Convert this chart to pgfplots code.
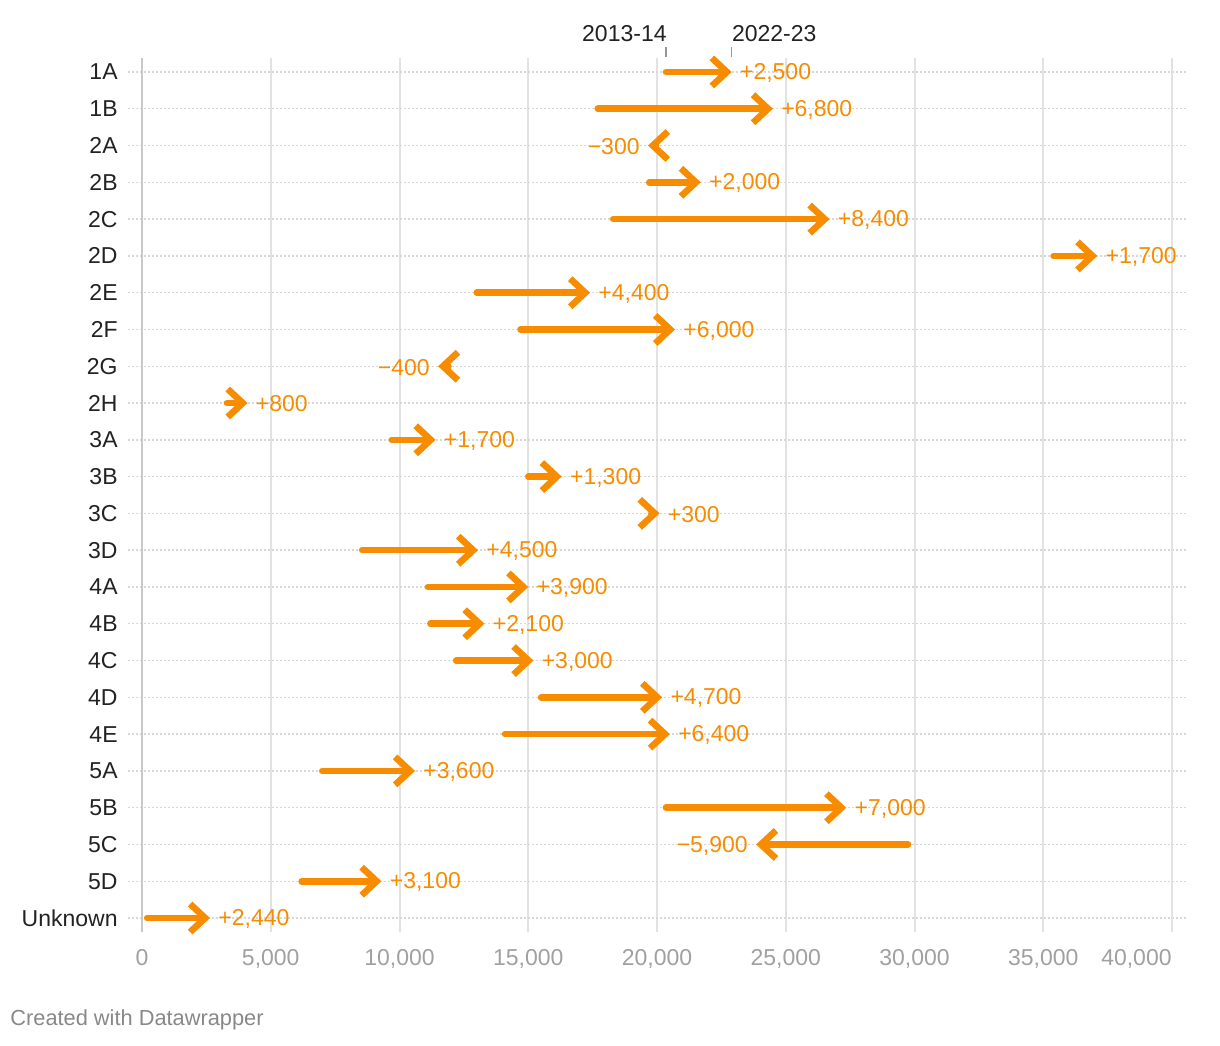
\documentclass[border=0pt]{standalone}
\usepackage{fontspec}
\setmainfont{Liberation Sans}
\usepackage{pgfplots}
\usepackage{pgfplotstable}
\pgfplotsset{compat=1.18}
\usetikzlibrary{arrows.meta}

\definecolor{dworange}{RGB}{247,140,0}
\definecolor{gridgray}{RGB}{226,226,226}
\definecolor{zerogray}{RGB}{200,200,200}
\definecolor{markgray}{RGB}{150,150,150}
\definecolor{dotgray}{RGB}{215,215,215}
\definecolor{tickgray}{RGB}{160,160,160}
\definecolor{footgray}{RGB}{136,136,136}
\definecolor{labeldark}{RGB}{34,34,34}

% rows: 0 = 1A ... 23 = Unknown ; x0 = 2013-14, x1 = 2022-23
\pgfplotstableread{
y  x0     x1     lab
0  20350  22900  +2,500
1  17700  24500  +6,800
3  19700  21700  +2,000
4  18300  26700  +8,400
5  35400  37100  +1,700
6  13000  17400  +4,400
7  14700  20700  +6,000
9  3300   4100   +800
10 9700   11400  +1,700
11 15000  16300  +1,300
12 19800  20100  +300
13 8550   13050  +4,500
14 11100  15000  +3,900
15 11200  13300  +2,100
16 12200  15200  +3,000
17 15500  20200  +4,700
18 14100  20500  +6,400
19 7000   10600  +3,600
20 20350  27350  +7,000
22 6200   9300   +3,100
23 200    2640   +2,440
}\gains

\pgfplotstableread{
y  x0     x1     lab
2  19950  19650  −300
8  11900  11500  −400
21 29750  23850  −5,900
}\losses

\newcommand{\lblfont}{\fontsize{11.5}{14}\selectfont}

\begin{document}
\begin{tikzpicture}
\begin{axis}[
    scale only axis,
    width=529pt, height=437pt,
    xmin=-544, xmax=40544,
    ymin=-0.38, ymax=23.38,
    y dir=reverse,
    clip=false,
    axis line style={draw=none},
    major tick length=0pt,
    xtick={0,5000,...,35000},
    extra x ticks={40000},
    extra x tick style={grid=major, xticklabel style={anchor=north east}},
    ytick={0,...,23},
    yticklabels={1A,1B,2A,2B,2C,2D,2E,2F,2G,2H,3A,3B,3C,3D,4A,4B,4C,4D,4E,5A,5B,5C,5D,Unknown},
    xmajorgrids, ymajorgrids,
    major x grid style={gridgray, line width=1pt},
    major y grid style={dotgray, line width=0.7pt, dash pattern=on 0.8pt off 1.2pt},
    /pgf/number format/assume math mode=true,
    /pgf/number format/1000 sep={,},
    scaled x ticks=false,
    xticklabel style={font=\lblfont, text=tickgray, inner sep=0pt, anchor=north, yshift=-8.5pt},
    yticklabel style={font=\lblfont, text=labeldark, inner sep=0pt, anchor=east, xshift=-5pt},
    every arrowstyle/.style={dworange, line width=3.3pt, line cap=round,
        -{Straight Barb[length=7.5pt,width=14pt]}},
]
% darker zero line
\addplot[zerogray, line width=1pt, forget plot] coordinates {(0,-0.38) (0,23.38)};

% arrows
\addplot[every arrowstyle, quiver={u=\thisrow{x1}-\thisrow{x0}, v=0}]
    table[x=x0, y=y] {\gains};
\addplot[every arrowstyle, quiver={u=\thisrow{x1}-\thisrow{x0}, v=0}]
    table[x=x0, y=y] {\losses};

% change labels
\addplot[draw=none, mark=none, nodes near coords, point meta=explicit symbolic,
    nodes near coords style={anchor=west, font=\lblfont, text=dworange, inner sep=0pt, xshift=4pt, yshift=-0.5pt}]
    table[x=x1, y=y, meta=lab] {\gains};
\addplot[draw=none, mark=none, nodes near coords, point meta=explicit symbolic,
    nodes near coords style={anchor=east, font=\lblfont, text=dworange, inner sep=0pt, xshift=-4pt, yshift=-0.5pt}]
    table[x=x1, y=y, meta=lab] {\losses};

% period markers
\draw[markgray, line width=0.6pt] ([yshift=0.5pt]axis cs:20350,-0.38) -- ([yshift=5.5pt]axis cs:20350,-0.38);
\draw[markgray, line width=0.6pt] ([yshift=0.5pt]axis cs:22900,-0.38) -- ([yshift=5.5pt]axis cs:22900,-0.38);
\node[anchor=base east, inner sep=0pt, font=\lblfont, text=labeldark, yshift=8pt, xshift=0.5pt] at (axis cs:20350,-0.38) {2013-14};
\node[anchor=base west, inner sep=0pt, font=\lblfont, text=labeldark, yshift=8pt] at (axis cs:22900,-0.38) {2022-23};
\end{axis}
\node[anchor=west, inner sep=0pt, font=\fontsize{10.9}{13}\selectfont, text=footgray] at ([shift={(-59pt,-44pt)}]current axis.south west) {Created with Datawrapper};
\pgfresetboundingbox
\path[use as bounding box] ([shift={(-64pt,-57pt)}]current axis.south west) rectangle ([shift={(17pt,29pt)}]current axis.north east);
\end{tikzpicture}
\end{document}
